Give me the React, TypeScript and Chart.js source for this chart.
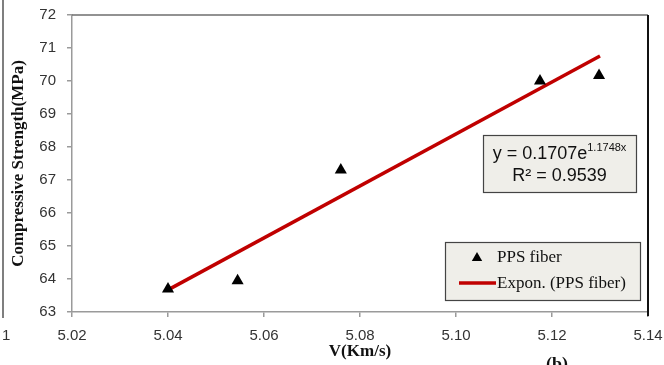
import React, { useEffect, useRef } from "react";
import { Chart, registerables } from "chart.js";

Chart.register(...registerables);

const velocity = [5.04, 5.0545, 5.076, 5.1175, 5.1298];
const strength = [63.7, 63.95, 67.3, 70.0, 70.17];
const trendX = [5.04, 5.13];
const trendY = [63.67, 70.76];
const xTickMin = 5.02;
const xTickMax = 5.14;
const xTickStep = 0.02;
const yTickMin = 63;
const yTickMax = 72;
const yTickStep = 1;
const seriesLabel = "PPS fiber";
const trendLabel = "Expon. (PPS fiber)";
const eqMain = "y = 0.1707e";
const eqExp = "1.1748x";
const r2Text = "R² = 0.9539";

const decorPlugin = {
  id: "decor",
  afterDraw(chart: any) {
    const { ctx, chartArea } = chart;
    const { left, right, top, bottom } = chartArea;
    ctx.save();
    ctx.strokeStyle = "#6e6e6e";
    ctx.lineWidth = 1.5;
    ctx.beginPath();
    ctx.moveTo(left, top);
    ctx.lineTo(right, top);
    ctx.stroke();
    ctx.strokeStyle = "#111";
    ctx.lineWidth = 2;
    ctx.beginPath();
    ctx.moveTo(right, top);
    ctx.lineTo(right, bottom + 4);
    ctx.stroke();

    // equation box
    const ex0 = 483, ey0 = 135, ew = 153, eh = 57;
    ctx.fillStyle = "#efeee9";
    ctx.fillRect(ex0, ey0, ew, eh);
    ctx.strokeStyle = "#444";
    ctx.lineWidth = 1.2;
    ctx.strokeRect(ex0 + 0.5, ey0 + 0.5, ew, eh);
    ctx.fillStyle = "#111";
    ctx.textBaseline = "alphabetic";
    ctx.font = "18px 'Liberation Sans', Arial, sans-serif";
    const mW = ctx.measureText(eqMain).width;
    ctx.font = "11px 'Liberation Sans', Arial, sans-serif";
    const sW = ctx.measureText(eqExp).width;
    const totalW = mW + sW;
    const cx = ex0 + ew / 2;
    const sx = cx - totalW / 2;
    ctx.font = "18px 'Liberation Sans', Arial, sans-serif";
    ctx.textAlign = "left";
    ctx.fillText(eqMain, sx, 159);
    ctx.font = "11px 'Liberation Sans', Arial, sans-serif";
    ctx.fillText(eqExp, sx + mW, 151);
    ctx.font = "18px 'Liberation Sans', Arial, sans-serif";
    ctx.textAlign = "center";
    ctx.fillText(r2Text, cx, 181);

    // legend box
    const lx0 = 445, ly0 = 242, lw = 195, lh = 58;
    ctx.fillStyle = "#efeee9";
    ctx.fillRect(lx0, ly0, lw, lh);
    ctx.strokeStyle = "#444";
    ctx.lineWidth = 1.2;
    ctx.strokeRect(lx0 + 0.5, ly0 + 0.5, lw, lh);
    const ds = chart.data.datasets;
    const tx = 477, ty = 257, tr = 6;
    ctx.fillStyle = ds[0].backgroundColor;
    ctx.beginPath();
    for (let i = 0; i < 3; i++) {
      const a = (i * 2 * Math.PI) / 3;
      const px = tx + Math.sin(a) * tr;
      const py = ty + 1 - Math.cos(a) * tr;
      if (i === 0) ctx.moveTo(px, py);
      else ctx.lineTo(px, py);
    }
    ctx.closePath();
    ctx.fill();
    ctx.fillStyle = "#111";
    ctx.font = "17px 'Liberation Serif', 'Times New Roman', serif";
    ctx.textAlign = "left";
    ctx.textBaseline = "middle";
    ctx.fillText(ds[0].label, 497, 258);
    ctx.strokeStyle = ds[1].borderColor;
    ctx.lineWidth = ds[1].borderWidth;
    ctx.beginPath();
    ctx.moveTo(459, 283);
    ctx.lineTo(496, 283);
    ctx.stroke();
    ctx.fillText(ds[1].label, 497, 284);

    // neighbouring-figure remnants
    ctx.strokeStyle = "#555";
    ctx.lineWidth = 1.5;
    ctx.beginPath();
    ctx.moveTo(3, 0);
    ctx.lineTo(3, 318);
    ctx.stroke();
    ctx.fillStyle = "#333";
    ctx.font = "15px 'Liberation Sans', Arial, sans-serif";
    ctx.textAlign = "left";
    ctx.textBaseline = "middle";
    ctx.fillText("1", 2, 336);
    ctx.fillStyle = "#111";
    ctx.font = "bold 18px 'Liberation Serif', 'Times New Roman', serif";
    ctx.textAlign = "center";
    ctx.textBaseline = "top";
    ctx.fillText("(b)", 557, 356);
    ctx.restore();
  },
};

export default function App() {
  const ref = useRef<HTMLCanvasElement | null>(null);
  useEffect(() => {
    document.body.style.margin = "0";
    const canvas = ref.current;
    if (!canvas) return;
    const chart = new Chart(canvas, {
      type: "scatter",
      data: {
        datasets: [
          {
            type: "scatter",
            label: seriesLabel,
            data: velocity.map((v, i) => ({ x: v, y: strength[i] })),
            pointStyle: "triangle",
            pointRadius: 7,
            backgroundColor: "#000",
            borderColor: "#000",
            borderWidth: 0,
            order: 0,
          },
          {
            type: "line",
            label: trendLabel,
            data: trendX.map((v, i) => ({ x: v, y: trendY[i] })),
            borderColor: "#c00000",
            backgroundColor: "#c00000",
            borderWidth: 3.5,
            pointRadius: 0,
            fill: false,
            order: 1,
          },
        ] as any,
      },
      options: {
        animation: false,
        responsive: false,
        devicePixelRatio: 1,
        layout: { padding: { left: 0, top: 15, right: 16, bottom: 0 } },
        plugins: {
          legend: { display: false },
          tooltip: { enabled: false },
        },
        scales: {
          x: {
            type: "linear",
            min: xTickMin,
            max: xTickMax,
            afterFit: (s: any) => {
              s.height = 53;
              s.paddingLeft = 0;
              s.paddingRight = 0;
            },
            ticks: {
              stepSize: xTickStep,
              padding: 10,
              color: "#333",
              font: { family: "'Liberation Sans', Arial, sans-serif", size: 15 },
              callback: (v: any) => Number(v).toFixed(2),
              maxRotation: 0,
            },
            grid: {
              drawOnChartArea: false,
              drawTicks: true,
              tickLength: 5,
              color: "#9a9a9a",
              lineWidth: 1.5,
            },
            border: { color: "#9a9a9a", width: 1.5 },
            title: {
              display: true,
              text: "V(Km/s)",
              color: "#111",
              font: { family: "'Liberation Serif', 'Times New Roman', serif", size: 17, weight: "bold" },
              padding: { top: 0, bottom: 3 },
            },
          },
          y: {
            type: "linear",
            min: yTickMin,
            max: yTickMax,
            afterFit: (s: any) => {
              s.width = 72;
              s.paddingTop = 0;
              s.paddingBottom = 0;
            },
            ticks: {
              stepSize: yTickStep,
              padding: 11,
              color: "#333",
              font: { family: "'Liberation Sans', Arial, sans-serif", size: 15 },
            },
            grid: {
              drawOnChartArea: false,
              drawTicks: true,
              tickLength: 5,
              color: "#9a9a9a",
              lineWidth: 1.5,
            },
            border: { color: "#9a9a9a", width: 1.5 },
            title: {
              display: true,
              text: "Compressive Strength(MPa)",
              color: "#111",
              font: { family: "'Liberation Serif', 'Times New Roman', serif", size: 17, weight: "bold" },
              padding: { top: 8, bottom: 0 },
            },
          },
        },
      },
      plugins: [decorPlugin],
    } as any);
    return () => chart.destroy();
  }, []);
  return (
    <div style={{ width: 664, height: 365, position: "relative" }}>
      <canvas ref={ref} width={664} height={365} style={{ width: 664, height: 365, display: "block" }} />
    </div>
  );
}
